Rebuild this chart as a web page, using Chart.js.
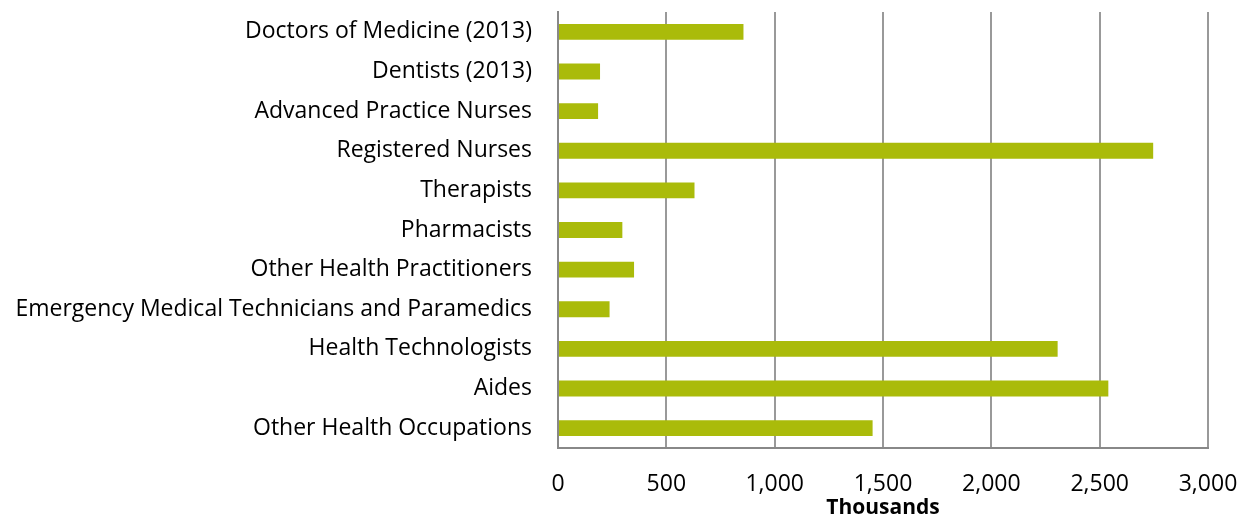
<!DOCTYPE html>
<html lang="en">
<head>
    <meta charset="UTF-8">
    <title>Health occupations</title>
    <script src="https://cdn.jsdelivr.net/npm/chart.js"></script>
    <style>
        html, body { margin: 0; padding: 0; background: #fff; }
        .chart-container { width: 1247px; height: 517px; }
    </style>
</head>
<body>
    <div class="chart-container">
        <canvas id="occChart"></canvas>
    </div>
    <script>
        const occupations = [
            'Doctors of Medicine (2013)',
            'Dentists (2013)',
            'Advanced Practice Nurses',
            'Registered Nurses',
            'Therapists',
            'Pharmacists',
            'Other Health Practitioners',
            'Emergency Medical Technicians and Paramedics',
            'Health Technologists',
            'Aides',
            'Other Health Occupations'
        ];
        const workers = [856, 194, 185, 2747, 630, 297, 351, 238, 2306, 2540, 1452];
        const xTicks = [0, 500, 1000, 1500, 2000, 2500, 3000];

        Chart.defaults.font.family = "'Open Sans', sans-serif";
        Chart.defaults.color = '#000';

        new Chart(document.getElementById('occChart'), {
            type: 'bar',
            data: {
                labels: occupations,
                datasets: [{
                    data: workers,
                    backgroundColor: '#AABB0A',
                    barPercentage: 0.4,
                    categoryPercentage: 1
                }]
            },
            options: {
                indexAxis: 'y',
                responsive: true,
                maintainAspectRatio: false,
                animation: false,
                layout: { padding: { top: 12, right: 39, bottom: 0, left: 0 } },
                plugins: { legend: { display: false }, tooltip: { enabled: false } },
                scales: {
                    x: {
                        min: 0,
                        max: 3000,
                        afterBuildTicks: s => { s.ticks = xTicks.map(v => ({ value: v })); },
                        afterFit: s => {
                            s.height = 69;
                            s.paddingLeft = 0; s.paddingRight = 0;
                        },
                        grid: { color: '#999', lineWidth: 2, drawTicks: false },
                        border: { display: true, color: '#888', width: 2 },
                        ticks: {
                            padding: 23,
                            maxRotation: 0,
                            font: { size: 23 },
                            callback: v => v.toLocaleString('en-US')
                        },
                        title: {
                            display: true,
                            text: 'Thousands',
                            font: { size: 21, weight: 'bold' },
                            padding: { top: 0, bottom: -4 }
                        }
                    },
                    y: {
                        afterFit: s => {
                            s.width = 558;
                            s.paddingTop = 0; s.paddingBottom = 0;
                        },
                        grid: { display: false, drawTicks: false },
                        border: { display: true, color: '#888', width: 2 },
                        ticks: { padding: 26, font: { size: 23 } }
                    }
                }
            }
        });
    </script>
</body>
</html>
